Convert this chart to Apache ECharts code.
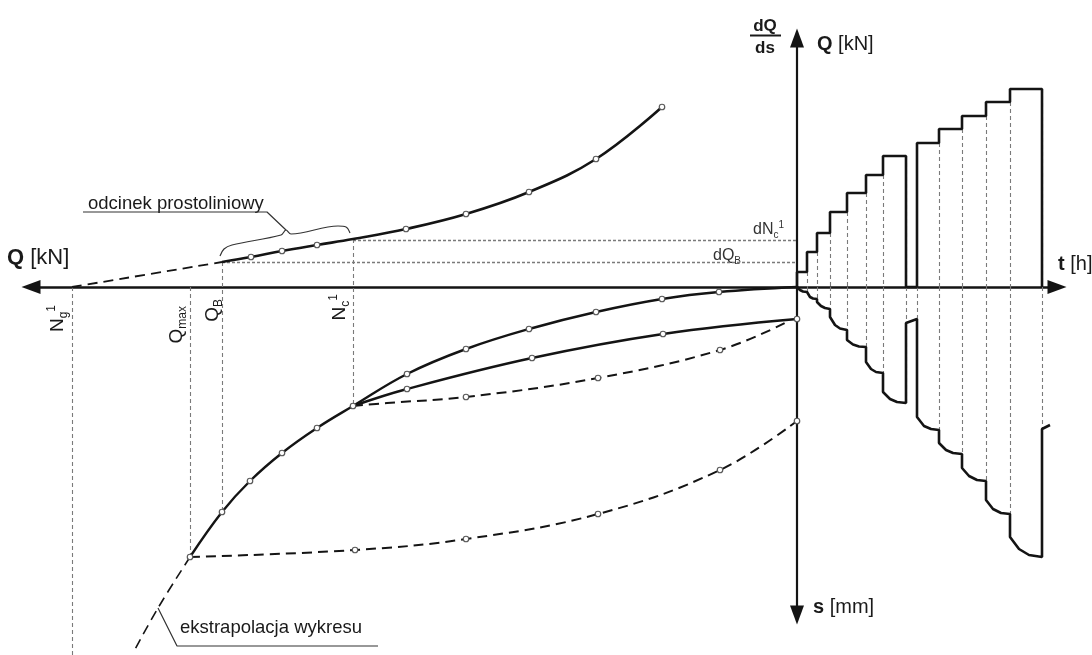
<!DOCTYPE html>
<html><head><meta charset="utf-8">
<script src="https://cdn.jsdelivr.net/npm/echarts/dist/echarts.min.js"></script>
<style>html,body{margin:0;padding:0;background:#fff}#c{width:1092px;height:655px}</style>
</head><body><div id="c"></div>
<script>
// ---------- data (diagram units: x = Q (left, negative) / t (right), y = dQ/ds or Q (up), s (down)) ----------
const loadTimes  = [0, 10, 20, 33, 50, 69, 86, 109, 120, 142, 165, 189, 213, 245];
const loadLevels = [15, 35, 54, 75, 94, 112, 131, 0, 144, 158, 171, 185, 198, 0];

const settleTime = [
  [0,0],[3,-3],[6,-4.5],[10,-5],
  [10,-7],[13,-10],[16,-11.5],[20,-12],
  [20,-15],[24,-19],[28,-21],[33,-22],
  [33,-30],[38,-38],[43,-41.5],[50,-43],
  [50,-53],[56,-57.5],[62,-59.5],[69,-60],
  [69,-75],[74,-82],[79,-85],[86,-86],
  [86,-105],[93,-112],[100,-115],[109,-116],
  [109,-36],[120,-32],
  [120,-130],[127,-139],[134,-142],[142,-143],
  [142,-156],[149,-163],[156,-166],[165,-167],
  [165,-181],[172,-189],[180,-193],[189,-194],
  [189,-213],[196,-222],[204,-226],[213,-227],
  [213,-250],[222,-262],[232,-268],[245,-270],
  [245,-142],[253,-138]
];
const guideTimes   = [10, 20, 33, 50, 69, 86, 109, 120, 142, 165, 189, 213, 245];
const settleBefore = [-5, -12, -22, -43, -60, -86, -116, -32, -143, -167, -194, -227, -142];

const Q_Ng = -725, Q_max = -607, Q_B = -575, Q_Nc = -444;
const dQ_B = 25, dN_c = 47;

const stiffCurve  = [[Q_B,25],[-546,30],[-515,36],[-480,42],[Q_Nc,48],[-391,58],[-331,73],[-268,95],[-201,128],[-135,180]];
const stiffExtrap = [[Q_Ng,0],[Q_B,25]];

const curveA = [[0,0],[-78,-5],[-135,-12],[-201,-25],[-268,-42],[-331,-62],[-390,-87],[Q_Nc,-119],[-480,-141],[-515,-166],[-547,-194],[Q_B,-225],[Q_max,-270]];
const curveB = [[Q_Nc,-119],[-390,-102],[-265,-71],[-134,-47],[0,-32]];
const curveC = [[Q_Nc,-119],[-410,-116],[-331,-110],[-199,-91],[-77,-63],[-12,-36]];
const curveD = [[Q_max,-270],[-442,-263],[-331,-252],[-199,-227],[-77,-183],[0,-134]];
const curveExtrap = [[Q_max,-270],[-639,-321],[-664,-366]];

// annotation paths
const braceLine   = [[-577,31],[-573,38],[-565,42],[-516,52],[-511,57],[-506,53],[-459,61],[-451,60],[-447,54]];
const leaderTop   = [[-714,75],[-530,75],[-511,57]];
const leaderBottom= [[-419,-359],[-620,-359],[-639,-321]];

// ---------- chart ----------
const INK = '#141414', GREY = '#7a7a7a';
const mk = (pts, unmarked) => pts.map((p,i) => unmarked.includes(i) ? {value:p, symbol:'none'} : p);
const markerStyle = {color:'#fff', borderColor:'#5a5a5a', borderWidth:1.2};

const stepData = [[0,0]].concat(loadTimes.map((t,i)=>[t, loadLevels[i]]));
const rightGuides = [];
guideTimes.forEach((t,i) => {
  const k = loadTimes.indexOf(t);
  const prev = k > 0 ? loadLevels[k-1] : 0;
  if (prev > 0) rightGuides.push({coords:[[t,prev],[t,0]]});
  rightGuides.push({coords:[[t,0],[t,settleBefore[i]]]});
});
const leftGuides = [
  {coords:[[Q_Ng,0],[Q_Ng,-372]]},
  {coords:[[Q_max,0],[Q_max,-270]]},
  {coords:[[Q_B,dQ_B],[Q_B,-225]]},
  {coords:[[Q_Nc,dN_c+1],[Q_Nc,-119]]}
];
const dotGuides = [
  {coords:[[Q_Nc,dN_c],[0,dN_c]]},
  {coords:[[Q_B,dQ_B],[0,dQ_B]]}
];

function curve(data, dashed, width, unmarked) {
  return {
    type:'line', data: mk(data, unmarked), smooth: 0.4, clip:false,
    symbol:'circle', symbolSize:5.5, showSymbol:true, itemStyle: markerStyle,
    lineStyle:{color:INK, width:width, type: dashed ? [10,6] : 'solid'},
    z: 3, silent:true
  };
}

const FONT = 'Liberation Sans, Arial, sans-serif';
function label(x, y, text, rich) {
  return {
    type:'text', x:x, y:y, silent:true,
    style:{text:text, rich:rich, fill:'#1a1a1a', fontFamily:FONT, fontSize:19,
      align:'left', verticalAlign:'middle', textAlign:'left', textVerticalAlign:'middle'}
  };
}
function axisRich(sz) {
  return {
    b:{fontFamily:FONT, fontSize:sz, fontWeight:'bold', fill:'#1a1a1a'},
    n:{fontFamily:FONT, fontSize:sz, fill:'#1a1a1a'}
  };
}
const symRich = {
  m:{fontFamily:FONT, fontSize:19, fill:'#1a1a1a', lineHeight:24},
  sub:{fontFamily:FONT, fontSize:12, fill:'#1a1a1a', verticalAlign:'bottom', lineHeight:24},
  sup:{fontFamily:FONT, fontSize:12, fill:'#1a1a1a', verticalAlign:'top', lineHeight:24}
};
const smallRich = {
  m:{fontFamily:FONT, fontSize:16, fill:'#333', lineHeight:20},
  sub:{fontFamily:FONT, fontSize:10, fill:'#333', verticalAlign:'bottom', lineHeight:20},
  sup:{fontFamily:FONT, fontSize:10, fill:'#333', verticalAlign:'top', lineHeight:20}
};
const R = Math.PI/2;
function rlabel(x, y, text) {
  return {type:'text', x:x, y:y, rotation:R, silent:true,
    style:{text:text, rich:symRich, fontFamily:FONT, fontSize:19, fill:'#1a1a1a',
      align:'right', verticalAlign:'middle', textAlign:'right', textVerticalAlign:'middle'}};
}
function plain(x, y, text, sz) {
  return {type:'text', x:x, y:y, silent:true, style:{text:text, fontFamily:FONT, fontSize:sz, fill:'#1a1a1a',
    align:'left', verticalAlign:'middle', textAlign:'left', textVerticalAlign:'middle'}};
}

const option = {
  animation:false,
  backgroundColor:'#fff',
  grid:{left:31, right:35, top:38, bottom:40, containLabel:false},
  xAxis:{type:'value', min:-766, max:260, splitLine:{show:false}, axisTick:{show:false}, axisLabel:{show:false},
    axisLine:{onZero:true, symbol:['triangle','triangle'], symbolSize:[14,19], lineStyle:{color:INK, width:2.5}}},
  yAxis:{type:'value', min:-328, max:249, splitLine:{show:false}, axisTick:{show:false}, axisLabel:{show:false},
    axisLine:{onZero:true, symbol:['triangle','triangle'], symbolSize:[14,19], lineStyle:{color:INK, width:2.2}}},
  series:[
    {type:'lines', coordinateSystem:'cartesian2d', clip:false, silent:true, z:1,
      lineStyle:{color:GREY, width:1.1, type:[4,3], opacity:1}, data: rightGuides.concat(leftGuides)},
    {type:'lines', coordinateSystem:'cartesian2d', clip:false, silent:true, z:1,
      lineStyle:{color:GREY, width:1.3, type:[3,2], opacity:1}, data: dotGuides},
    {type:'line', data: stepData, step:'end', symbol:'none', clip:false, silent:true, z:3,
      lineStyle:{color:INK, width:2.6}},
    {type:'line', data: settleTime, symbol:'none', clip:false, silent:true, z:3,
      lineStyle:{color:INK, width:2.6}},
    curve(stiffCurve, false, 2.6, [0,4]),
    curve(stiffExtrap, true, 1.8, [0,1]),
    curve(curveA, false, 2.4, [0]),
    curve(curveB, false, 2.4, [0]),
    curve(curveC, true, 2, [0,1,5]),
    curve(curveD, true, 2, [0]),
    curve(curveExtrap, true, 1.6, [0,1,2]),
    {type:'line', data: braceLine, smooth:0.35, symbol:'none', clip:false, silent:true, z:2,
      lineStyle:{color:'#333', width:1.2}},
    {type:'line', data: leaderTop, symbol:'none', clip:false, silent:true, z:2,
      lineStyle:{color:'#333', width:1.2}},
    {type:'line', data: leaderBottom, symbol:'none', clip:false, silent:true, z:2,
      lineStyle:{color:'#333', width:1.2}}
  ],
  graphic:[
    label(7, 258, '{b|Q }{n|[kN]}', axisRich(22)),
    label(817, 44, '{b|Q }{n|[kN]}', axisRich(20)),
    label(1058, 264, '{b|t }{n|[h]}', axisRich(20)),
    label(813, 607, '{b|s }{n|[mm]}', axisRich(20)),
    {type:'text', x:765, y:26, silent:true, style:{text:'dQ', fontFamily:FONT, fontSize:17, fontWeight:'bold', fill:'#1a1a1a', align:'center', verticalAlign:'middle', textAlign:'center', textVerticalAlign:'middle'}},
    {type:'line', silent:true, shape:{x1:750, y1:35.5, x2:781, y2:35.5}, style:{stroke:'#1a1a1a', lineWidth:2}},
    {type:'text', x:765, y:48, silent:true, style:{text:'ds', fontFamily:FONT, fontSize:17, fontWeight:'bold', fill:'#1a1a1a', align:'center', verticalAlign:'middle', textAlign:'center', textVerticalAlign:'middle'}},
    label(753, 230, '{m|dN}{sub|c}{sup|1}', smallRich),
    label(713, 256, '{m|dQ}{sub|B}', smallRich),
    plain(88, 204, 'odcinek prostoliniowy', 18.5),
    plain(180, 628, 'ekstrapolacja wykresu', 18.5),
    rlabel(58, 305, '{m|N}{sub|g}{sup|1}'),
    rlabel(177, 306, '{m|Q}{sub|max}'),
    rlabel(213, 299, '{m|Q}{sub|B}'),
    rlabel(340, 294, '{m|N}{sub|c}{sup|1}')
  ]
};
const chart = echarts.init(document.getElementById('c'), null, {renderer:'canvas'});
chart.setOption(option);
</script></body></html>
